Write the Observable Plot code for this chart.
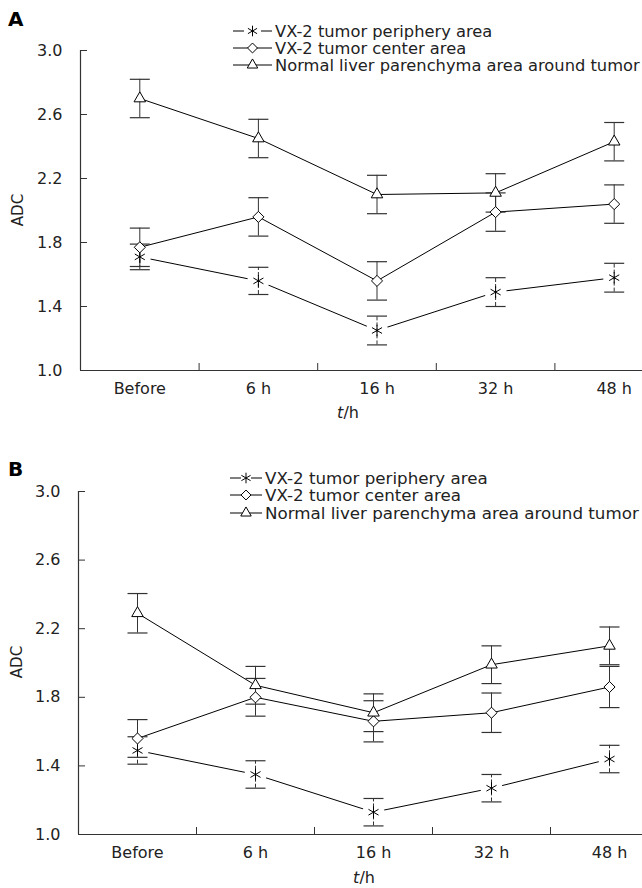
<!DOCTYPE html>
<html><head><meta charset="utf-8">
<script src="https://cdn.jsdelivr.net/npm/d3@7"></script>
<script src="https://cdn.jsdelivr.net/npm/@observablehq/plot@0.6"></script>
<style>
body{margin:0;background:#fff;}
#wrap{position:relative;width:642px;height:888px;overflow:hidden;font-family:"DejaVu Sans",Verdana,sans-serif;background:#fff;}
.panel{position:absolute;left:0;width:642px;overflow:hidden;}
svg{display:block;}
</style></head><body>
<div id="wrap"><div class="panel" id="pa" style="top:0"></div><div class="panel" id="pb" style="top:440px"></div></div>
<script>
const timepoints = ["Before", "6 h", "16 h", "32 h", "48 h"];
const seriesNames = ["VX-2 tumor periphery area", "VX-2 tumor center area", "Normal liver parenchyma area around tumor"];
const yTicks = [1.0, 1.4, 1.8, 2.2, 2.6, 3.0];

// Panel A
const aPeriphery = [1.71, 1.56, 1.25, 1.49, 1.58];
const aPeripheryErr = [0.08, 0.085, 0.09, 0.09, 0.09];
const aCenter = [1.77, 1.96, 1.56, 1.99, 2.04];
const aCenterErr = [0.12, 0.12, 0.12, 0.12, 0.12];
const aNormal = [2.70, 2.45, 2.10, 2.11, 2.43];
const aNormalErr = [0.12, 0.12, 0.12, 0.12, 0.12];

// Panel B
const bPeriphery = [1.49, 1.35, 1.13, 1.27, 1.44];
const bPeripheryErr = [0.08, 0.08, 0.08, 0.08, 0.08];
const bCenter = [1.56, 1.80, 1.66, 1.71, 1.86];
const bCenterErr = [0.11, 0.11, 0.12, 0.115, 0.12];
const bNormal = [2.29, 1.87, 1.71, 1.99, 2.10];
const bNormalErr = [0.115, 0.11, 0.11, 0.11, 0.11];

const rows = (vals, errs) => vals.map((v, i) => ({i, v, e: errs[i]}));
const capSymbol = {draw(ctx, size) { const w = Math.sqrt(size / Math.PI); ctx.moveTo(-w, 0); ctx.lineTo(w, 0); }};
const AX = "#333";

function panel(sets, o) {
  const [P, C, N] = sets;
  const all = [...P, ...C, ...N];
  const svg = Plot.plot({
    width: 642, height: o.height, marginTop: o.marginTop, marginBottom: o.marginBottom,
    marginLeft: o.marginLeft, marginRight: o.marginRight,
    x: {type: "linear", domain: [-0.5, 4.5]},
    y: {domain: [1, 3]},
    style: {fontFamily: "'DejaVu Sans', Verdana, sans-serif", fontSize: "16px", color: "#222", background: "white"},
    marks: [
      Plot.axisY({ticks: yTicks, tickSize: 0, tickPadding: 18, tickFormat: d3.format(".1f"), label: null}),
      Plot.axisY({ticks: yTicks, tickSize: -7, tickFormat: () => "", label: null, stroke: AX}),
      Plot.axisX({ticks: [0, 1, 2, 3, 4], tickSize: 0, tickPadding: 12, tickFormat: i => timepoints[i], label: null}),
      Plot.axisX({ticks: [0.5, 1.5, 2.5, 3.5], tickSize: -7, tickFormat: () => "", label: null, stroke: AX}),
      Plot.ruleY([1], {stroke: AX, strokeWidth: 1.2}),
      Plot.ruleX([-0.5], {stroke: AX, strokeWidth: 1.2}),
      Plot.line(P, {x: "i", y: "v", stroke: "black", strokeWidth: 1}),
      Plot.dot(P, {x: "i", y: "v", r: 11, fill: "white", stroke: null}),
      Plot.line(C, {x: "i", y: "v", stroke: "black", strokeWidth: 1}),
      Plot.line(N, {x: "i", y: "v", stroke: "black", strokeWidth: 1}),
      Plot.ruleX(P, {x: "i", y1: d => d.v - d.e, y2: d => d.v + d.e, stroke: "#333", strokeDasharray: "4,2"}),
      Plot.ruleX([...C, ...N], {x: "i", y1: d => d.v - d.e, y2: d => d.v + d.e, stroke: "#333"}),
      Plot.dot(all, {x: "i", y: d => d.v + d.e, symbol: capSymbol, r: 10, stroke: "#333", fill: "none", strokeWidth: 1.2}),
      Plot.dot(all, {x: "i", y: d => d.v - d.e, symbol: capSymbol, r: 10, stroke: "#333", fill: "none", strokeWidth: 1.2}),
      Plot.dot(P, {x: "i", y: "v", symbol: "asterisk", r: 5.5, stroke: "black", strokeWidth: 1}),
      Plot.dot(C, {x: "i", y: "v", symbol: "diamond2", r: 5, stroke: "black", fill: "white", strokeWidth: 1}),
      Plot.dot(N, {x: "i", y: "v", symbol: "triangle2", r: 5.5, stroke: "black", fill: "white", strokeWidth: 1})
    ]
  });
  const s = d3.select(svg);
  // panel letter
  s.append("text").attr("x", 8).attr("y", o.letterY).attr("font-size", 20).attr("font-weight", "bold")
    .attr("text-anchor", "start").attr("font-family", "'DejaVu Sans', sans-serif").attr("fill", "black").text(o.letter);
  // y label
  s.append("text").attr("transform", `translate(${o.adcX},${o.adcY}) rotate(-90)`).attr("text-anchor", "middle")
    .attr("font-size", 15).attr("fill", "#222").text("ADC");
  // x label
  const t = s.append("text").attr("x", o.thX).attr("y", o.thY).attr("text-anchor", "middle").attr("font-size", 16).attr("fill", "#222");
  t.append("tspan").attr("font-style", "italic").text("t");
  t.append("tspan").text("/h");
  // legend
  const symbols = [d3.symbolAsterisk, d3.symbolDiamond2, d3.symbolTriangle2];
  const sizes = [Math.PI * 25, Math.PI * 20, Math.PI * 25];
  const lg = s.append("g").attr("font-size", o.legFont).attr("fill", "#222").attr("text-anchor", "start");
  seriesNames.forEach((name, k) => {
    const y = o.legY[k];
    const g = lg.append("g").attr("transform", `translate(0,${y})`);
    if (k === 0) {
      g.append("line").attr("x1", o.legX0).attr("x2", o.legX0 + 11).attr("stroke", "black");
      g.append("line").attr("x1", o.legX1 - 11).attr("x2", o.legX1).attr("stroke", "black");
    } else {
      g.append("line").attr("x1", o.legX0).attr("x2", o.legX1).attr("stroke", "black");
    }
    g.append("path").attr("d", d3.symbol(symbols[k], sizes[k])()).attr("transform", `translate(${(o.legX0 + o.legX1) / 2},0)`)
      .attr("fill", k === 0 ? "none" : "white").attr("stroke", "black");
    g.append("text").attr("x", o.legX1 + 3).attr("dy", "0.35em").attr("text-anchor", "start").text(name);
  });
  return svg;
}

document.getElementById("pa").append(panel(
  [rows(aPeriphery, aPeripheryErr), rows(aCenter, aCenterErr), rows(aNormal, aNormalErr)],
  {height: 440, marginTop: 50, marginBottom: 70, marginLeft: 80, marginRight: -31,
   letter: "A", letterY: 26, adcX: 23, adcY: 210, thX: 348, thY: 418,
   legY: [31, 48, 65], legX0: 233, legX1: 272, legFont: 16.3}
));
document.getElementById("pb").append(panel(
  [rows(bPeriphery, bPeripheryErr), rows(bCenter, bCenterErr), rows(bNormal, bNormalErr)],
  {height: 448, marginTop: 51, marginBottom: 54, marginLeft: 78, marginRight: -26,
   letter: "B", letterY: 36, adcX: 22, adcY: 222, thX: 364, thY: 443,
   legY: [38, 55, 73], legX0: 230, legX1: 262, legFont: 16.7}
));
</script>
</body></html>
